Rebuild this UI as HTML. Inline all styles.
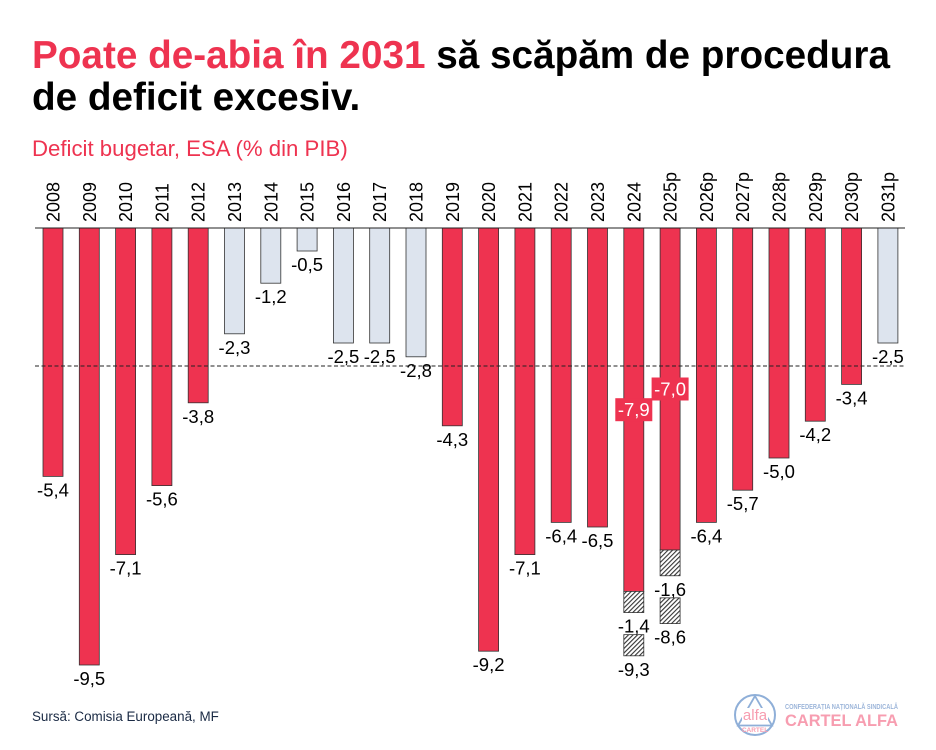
<!DOCTYPE html>
<html lang="ro">
<head>
<meta charset="utf-8">
<title>Deficit bugetar</title>
<style>
html,body{margin:0;padding:0;background:#fff;}
body{width:936px;height:750px;overflow:hidden;}
svg{display:block;font-family:"Liberation Sans",Arial,sans-serif;}
</style>
</head>
<body>
<svg id="chart" width="936" height="750" viewBox="0 0 936 750" xmlns="http://www.w3.org/2000/svg">
  <defs>
    <pattern id="hatch" patternUnits="userSpaceOnUse" width="3.2" height="3.2" patternTransform="rotate(45)">
      <rect width="3.2" height="3.2" fill="#fff"></rect>
      <rect width="1.1" height="3.2" fill="#333"></rect>
    </pattern>
  </defs>
  <text x="32" y="68" font-size="38.7" font-weight="700" fill="#000"><tspan fill="#EE3350">Poate de-abia în 2031</tspan> să scăpăm de procedura</text>
  <text x="32" y="110" font-size="38.7" font-weight="700" fill="#000">de deficit excesiv.</text>
  <text x="32" y="156" font-size="22.2" fill="#EE3350">Deficit bugetar, ESA (% din PIB)</text>
  <g id="marks"></g>
  <text x="32" y="721" font-size="13.4" fill="#1a2a44">Sursă: Comisia Europeană, MF</text>
  <g>
    <circle cx="755" cy="715" r="20" fill="none" stroke="#8FAFD8" stroke-width="2"></circle>
    <path d="M755 696 L738 725.5 L772 725.5 Z" fill="none" stroke="#8FAFD8" stroke-width="1.8"></path>
    <rect x="742" y="708" width="26" height="14" fill="#fff"></rect>
    <text x="755" y="720" font-size="15" text-anchor="middle" fill="#F79DB0">alfa</text>
    <text x="755" y="732" font-size="6.5" font-weight="700" text-anchor="middle" fill="#F79DB0">CARTEL</text>
    <text x="785" y="709" font-size="7.5" font-weight="700" fill="#9DB6DA" textLength="113" lengthAdjust="spacingAndGlyphs">CONFEDERAȚIA NAȚIONALĂ SINDICALĂ</text>
    <text x="785" y="726" font-size="17" font-weight="700" fill="#F79DB0" textLength="113" lengthAdjust="spacingAndGlyphs">CARTEL ALFA</text>
  </g>
</svg>
<script>
const years = ['2008','2009','2010','2011','2012','2013','2014','2015','2016','2017','2018','2019','2020','2021','2022','2023','2024','2025p','2026p','2027p','2028p','2029p','2030p','2031p'];
const deficit = [-5.4,-9.5,-7.1,-5.6,-3.8,-2.3,-1.2,-0.5,-2.5,-2.5,-2.8,-4.3,-9.2,-7.1,-6.4,-6.5,-7.9,-7.0,-6.4,-5.7,-5.0,-4.2,-3.4,-2.5];
const threshold = [-3];
const boxedYears = ['2024','2025p'];
const extraYears = ['2024','2025p'];
const extraDelta = [-1.4,-1.6];
const extraDrawn = [-0.46,-0.56];
const extraTotal = [-9.3,-8.6];

const NS = 'http://www.w3.org/2000/svg';
const root = document.getElementById('marks');
const x = i => 43 + i * 36.3;
const y = v => 228 - v * 46;
const BAR_W = 20;
const RED = '#EE3350';
const LIGHT = '#DDE4EE';
const LABEL_SIZE = 18.5;
const fmt = v => String(v.toFixed(1)).replace('.', ',');

function make(tag, attrs, text) {
  const el = document.createElementNS(NS, tag);
  for (const k in attrs) el.setAttribute(k, attrs[k]);
  if (text !== undefined) el.textContent = text;
  root.appendChild(el);
  return el;
}

years.forEach((yr, i) => {
  const v = deficit[i];
  const cx = x(i) + BAR_W / 2;
  const bar = make('rect', {x: x(i), y: y(0), width: BAR_W, height: y(v) - y(0), fill: v < threshold[0] ? RED : LIGHT, stroke: '#333', 'stroke-width': 0.8});
  
  

  const tick = make('text', {transform: 'translate(' + (cx + 6.5) + ',222) rotate(-90)', 'font-size': 18, fill: '#000'}, yr);
  
  

  if (boxedYears.includes(yr)) {
    const my = y(v / 2);
    const box = make('rect', {x: cx - 18.5, y: my - 11.5, width: 37, height: 23, fill: RED});
    
    
    const lab = make('text', {x: cx, y: my + 6.5, 'font-size': LABEL_SIZE, 'text-anchor': 'middle', fill: '#fff'}, fmt(v));
    
    
  } else {
    const lab = make('text', {x: cx, y: y(v) + 20, 'font-size': LABEL_SIZE, 'text-anchor': 'middle', fill: '#000'}, fmt(v));
    
    
  }
});

extraYears.forEach((yr, k) => {
  const i = years.indexOf(yr);
  const cx = x(i) + BAR_W / 2;
  const base = deficit[i];
  const h1 = make('rect', {x: x(i), y: y(base), width: BAR_W, height: y(base + extraDrawn[k]) - y(base), fill: 'url(#hatch)', stroke: '#333', 'stroke-width': 0.8});
  
  
  const l1 = make('text', {x: cx, y: y(base + extraDrawn[k]) + 20, 'font-size': LABEL_SIZE, 'text-anchor': 'middle', fill: '#000'}, fmt(extraDelta[k]));
  
  
  const h2 = make('rect', {x: x(i), y: y(extraTotal[k] - extraDrawn[k]), width: BAR_W, height: y(extraTotal[k]) - y(extraTotal[k] - extraDrawn[k]), fill: 'url(#hatch)', stroke: '#333', 'stroke-width': 0.8});
  
  
  const l2 = make('text', {x: cx, y: y(extraTotal[k]) + 20, 'font-size': LABEL_SIZE, 'text-anchor': 'middle', fill: '#000'}, fmt(extraTotal[k]));
  
  
});

const axis = make('line', {x1: 35, x2: 905, y1: y(0), y2: y(0), stroke: '#222', 'stroke-width': 0.9});



const dash = make('line', {x1: 35, x2: 905, y1: y(threshold[0]), y2: y(threshold[0]), stroke: '#222', 'stroke-width': 0.9, 'stroke-dasharray': '4 2.5'});


</script>
</body>
</html>
